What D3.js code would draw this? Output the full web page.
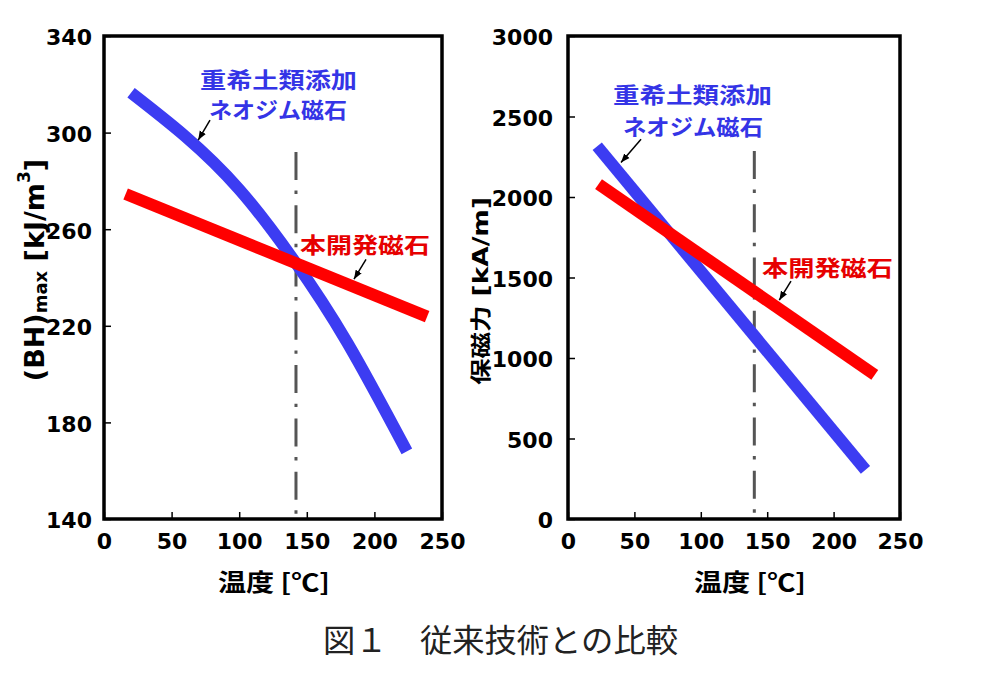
<!DOCTYPE html>
<html><head><meta charset="utf-8">
<script src="https://cdn.jsdelivr.net/npm/d3@7"></script>
<style>
body{margin:0;background:#fff;}
svg{display:block;}
</style></head>
<body>
<svg id="chart" width="1000" height="680"></svg>
<script>
// ---------- data ----------
const tempTicks = [0, 50, 100, 150, 200, 250];
const bhTicks = [140, 180, 220, 260, 300, 340];
const hcTicks = [0, 500, 1000, 1500, 2000, 2500, 3000];

// (BH)max vs temperature
const bhConvTemp = [20, 60, 100, 140, 180, 224];
const bhConvVal  = [316.5, 298.5, 276.5, 247.5, 213, 168];
const bhNewTemp  = [16, 239];
const bhNewVal   = [274.6, 223.8];

// coercivity vs temperature
const hcConvTemp = [22, 224];
const hcConvVal  = [2315, 305];
const hcNewTemp  = [23, 231];
const hcNewVal   = [2080, 895];

// reference (dash-dot) temperature, and its top value
const bhRefTemp = 142, bhRefTop = 292;
const hcRefTemp = 140.3, hcRefTop = 2286;

// annotation arrows in data units [fromT, fromV, toT, toV]
const bhArrowConv = [78.4, 305.2, 69.7, 296.9];
const bhArrowNew  = [193.8, 247.5, 184.9, 239.3];
const hcArrowConv = [55, 2359, 39.9, 2214];
const hcArrowNew  = [167.9, 1477, 159.1, 1359];

const labelConv = ["重希土類添加", "ネオジム磁石"];
const labelNew = "本開発磁石";
const xTitle = "温度 [℃]";
const caption = "図１　従来技術との比較";

// ---------- styles ----------
const BLUE = "#3c3cf2", RED = "#ff0000";
const BLUE_T = "#3434e6", RED_T = "#e60000";
const svg = d3.select("#chart");
const defs = svg.append("defs");
defs.append("marker").attr("id", "ah").attr("markerUnits", "userSpaceOnUse")
  .attr("markerWidth", 10).attr("markerHeight", 8).attr("refX", 9).attr("refY", 4)
  .attr("orient", "auto")
  .append("path").attr("d", "M0,0.5 L9,4 L0,7.5 Z").attr("fill", "#000");

function panel(o) {
  const x = d3.scaleLinear().domain([0, 250]).range([o.x0, o.x1]);
  const y = d3.scaleLinear().domain(o.yDomain).range([o.y1, o.y0]);
  const g = svg.append("g");

  // axes
  const ax = g.append("g").attr("transform", `translate(0,${o.y1})`)
    .call(d3.axisBottom(x).tickValues(tempTicks).tickFormat(d3.format("d")).tickSize(-7).tickPadding(14));
  const ay = g.append("g").attr("transform", `translate(${o.x0},0)`)
    .call(d3.axisLeft(y).tickValues(o.yTicks).tickFormat(d3.format("d")).tickSize(-7).tickPadding(o.ypad));
  [ax, ay].forEach(a => {
    a.attr("font-size", null).attr("font-family", null);
    a.select(".domain").remove();
    a.selectAll(".tick line").attr("stroke", "#000").attr("stroke-width", 1.5);
    a.selectAll(".tick text").attr("fill", "#000")
      .attr("font-family", "DejaVu Sans").attr("font-weight", "bold").attr("font-size", 22);
  });
  ay.selectAll(".tick text").attr("dy", "0.4em");

  // reference dash-dot line
  g.append("line").attr("x1", x(o.refT)).attr("x2", x(o.refT))
    .attr("y1", y(o.refTop)).attr("y2", o.y1 - 4)
    .attr("stroke", "#555").attr("stroke-width", 3)
    .attr("stroke-dasharray", "28,10.6,3.4,11.3");

  const line = d3.line().x(d => x(d[0])).y(d => y(d[1])).curve(d3.curveNatural);
  g.append("path").datum(d3.zip(o.convT, o.convV)).attr("d", line)
    .attr("fill", "none").attr("stroke", BLUE).attr("stroke-width", 12);
  g.append("path").datum(d3.zip(o.newT, o.newV)).attr("d", line)
    .attr("fill", "none").attr("stroke", RED).attr("stroke-width", 12);

  // frame
  g.append("rect").attr("x", o.x0).attr("y", o.y0)
    .attr("width", o.x1 - o.x0).attr("height", o.y1 - o.y0)
    .attr("fill", "none").attr("stroke", "#000").attr("stroke-width", 3.5);

  // arrows
  [o.arrConv, o.arrNew].forEach(a => {
    g.append("line").attr("x1", x(a[0])).attr("y1", y(a[1]))
      .attr("x2", x(a[2])).attr("y2", y(a[3]))
      .attr("stroke", "#000").attr("stroke-width", 1.5).attr("marker-end", "url(#ah)");
  });

  // labels
  const lab = (t, cx, cy, w, c) => g.append("text").text(t)
    .attr("x", cx).attr("y", cy).attr("text-anchor", "middle")
    .attr("dominant-baseline", "central")
    .attr("textLength", w).attr("lengthAdjust", "spacingAndGlyphs")
    .attr("fill", c)
    .style("font-family", "'Noto Sans CJK JP'").style("font-weight", "bold").style("font-size", "22px");
  lab(labelConv[0], o.lc[0], o.lc[1], o.lc[2], BLUE_T);
  lab(labelConv[1], o.lc2[0], o.lc2[1], o.lc2[2], BLUE_T);
  lab(labelNew, o.ln[0], o.ln[1], o.ln[2], RED_T);

  // x title
  g.append("text").text(xTitle).attr("x", o.xtX).attr("y", 580)
    .attr("text-anchor", "middle").attr("dominant-baseline", "central")
    .attr("textLength", 112).attr("lengthAdjust", "spacingAndGlyphs")
    .attr("fill", "#000")
    .style("font-family", "'Noto Sans CJK JP'").style("font-weight", "bold").style("font-size", "24px");
  return g;
}

panel({x0: 104, x1: 442, y0: 36, y1: 519, yDomain: [140, 340], yTicks: bhTicks, ypad: 12,
  convT: bhConvTemp, convV: bhConvVal, newT: bhNewTemp, newV: bhNewVal,
  refT: bhRefTemp, refTop: bhRefTop, arrConv: bhArrowConv, arrNew: bhArrowNew,
  lc: [278.5, 77.5, 157], lc2: [278, 107.5, 138], ln: [365, 242.5, 130], xtX: 274});

panel({x0: 568, x1: 900, y0: 36, y1: 519, yDomain: [0, 3000], yTicks: hcTicks, ypad: 15,
  convT: hcConvTemp, convV: hcConvVal, newT: hcNewTemp, newV: hcNewVal,
  refT: hcRefTemp, refTop: hcRefTop, arrConv: hcArrowConv, arrNew: hcArrowNew,
  lc: [692.5, 93, 159], lc2: [693, 125, 140], ln: [827.5, 266, 131], xtX: 750});

// y titles
const t1 = svg.append("text").attr("transform", "translate(34,270) rotate(-90)")
  .attr("text-anchor", "middle").attr("dominant-baseline", "central").attr("fill", "#000")
  .style("font-family", "'DejaVu Sans'").style("font-weight", "bold").style("font-size", "27px");
t1.append("tspan").text("(BH)");
t1.append("tspan").text("max").style("font-size", "18px").attr("dy", 6);
t1.append("tspan").text(" [kJ/m").attr("dy", -6);
t1.append("tspan").text("3").style("font-size", "17px").attr("dy", -10);
t1.append("tspan").text("]").attr("dy", 10);

svg.append("text").attr("transform", "translate(481,291) rotate(-90)")
  .attr("text-anchor", "middle").attr("dominant-baseline", "central").attr("fill", "#000")
  .attr("textLength", 188).attr("lengthAdjust", "spacingAndGlyphs")
  .style("font-family", "'DejaVu Sans','Noto Sans CJK JP'").style("font-weight", "bold").style("font-size", "21px")
  .text("保磁力 [kA/m]");

// caption
svg.append("text").text(caption).attr("x", 500.5).attr("y", 638)
  .attr("text-anchor", "middle").attr("dominant-baseline", "central")
  .attr("textLength", 355).attr("lengthAdjust", "spacingAndGlyphs")
  .attr("fill", "#222")
  .style("font-family", "'Noto Sans CJK JP'").style("font-weight", "400").style("font-size", "32px");
</script>
</body></html>
